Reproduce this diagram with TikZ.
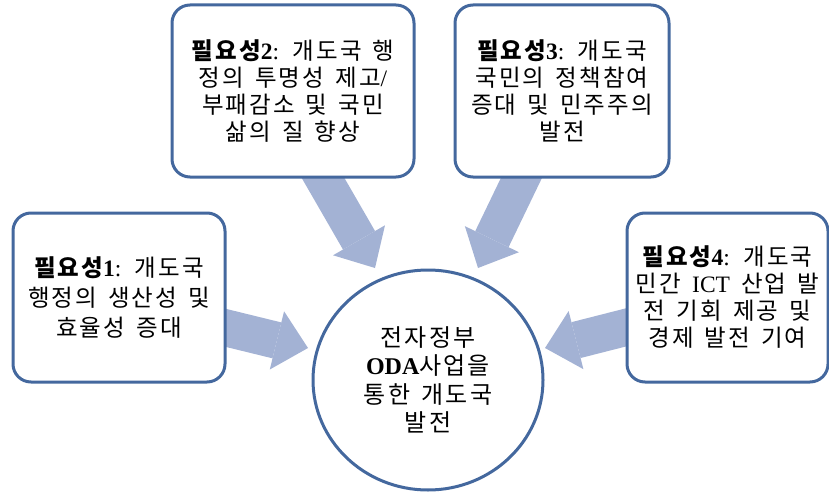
\documentclass[tikz,border=0pt]{standalone}
\usepackage{fontspec}
\setmainfont{Noto Sans CJK KR}[WordSpace=1.5,LetterSpace=9]
\newfontfamily\lat{Liberation Serif}
\usetikzlibrary{arrows.meta,backgrounds,calc,shapes.geometric}
\definecolor{bord}{RGB}{68,104,158}
\definecolor{arr}{RGB}{163,178,212}
\begin{document}
\begin{tikzpicture}[x=1pt,y=-1pt,
  box/.style={draw=bord, line width=3pt, fill=white, rounded corners=18pt, align=center, inner sep=0pt, font=\fontsize{23.5}{27}\selectfont},
  hub/.style={draw=bord, line width=3pt, fill=white, ellipse, align=center, inner sep=0pt, font=\fontsize{24}{28.5}\selectfont},
  bigarrow/.style={draw=arr, line width=37pt, -{Triangle[length=32pt,width=60pt,line width=0pt]}},
]
\useasboundingbox (0,0) rectangle (829,492);
\node[box, minimum width=212pt, minimum height=169pt, font=\fontsize{23.5}{30}\selectfont] (b1) at (119,297.5)
  {\textbf{필요성{\lat 1}}{\lat :} 개도국\\행정의 생산성 및\\효율성 증대};
\node[box, minimum width=242pt, minimum height=172pt] (b2) at (293,91)
  {\textbf{필요성{\lat 2}}{\lat :} 개도국 행\\정의 투명성 제고{\lat /}\\부패감소 및 국민\\삶의 질 향상};
\node[box, minimum width=214pt, minimum height=172pt] (b3) at (562,91)
  {\textbf{필요성{\lat 3}}{\lat :} 개도국\\국민의 정책참여\\증대 및 민주주의\\발전};
\node[box, minimum width=201pt, minimum height=169pt] (b4) at (727.5,297.5)
  {\textbf{필요성{\lat 4}}{\lat :} 개도국\\민간 {\lat ICT} 산업 발\\전 기회 제공 및\\경제 발전 기여};
\node[hub, minimum width=230pt, minimum height=220pt] (c) at (428,380)
  {전자정부\\{\lat\bfseries ODA}사업을\\통한 개도국\\발전};
\coordinate (s1) at ($(b1.east)+(-45,19.5)$);
\coordinate (s2) at ($(b2.south)+(9,-37)$);
\coordinate (s3) at ($(b3.south)+(-23,-37)$);
\coordinate (s4) at ($(b4.west)+(53,16.5)$);
\coordinate (t1) at ($(c)+(-120,-32)$);
\coordinate (t2) at ($(c)+(-53,-112)$);
\coordinate (t3) at ($(c)+(50,-112)$);
\coordinate (t4) at ($(c)+(117,-32)$);
\begin{scope}[on background layer]
\draw[bigarrow] (s1) -- (t1);
\draw[bigarrow] (s2) -- (t2);
\draw[bigarrow] (s3) -- (t3);
\draw[bigarrow] (s4) -- (t4);
\end{scope}
\end{tikzpicture}
\end{document}
